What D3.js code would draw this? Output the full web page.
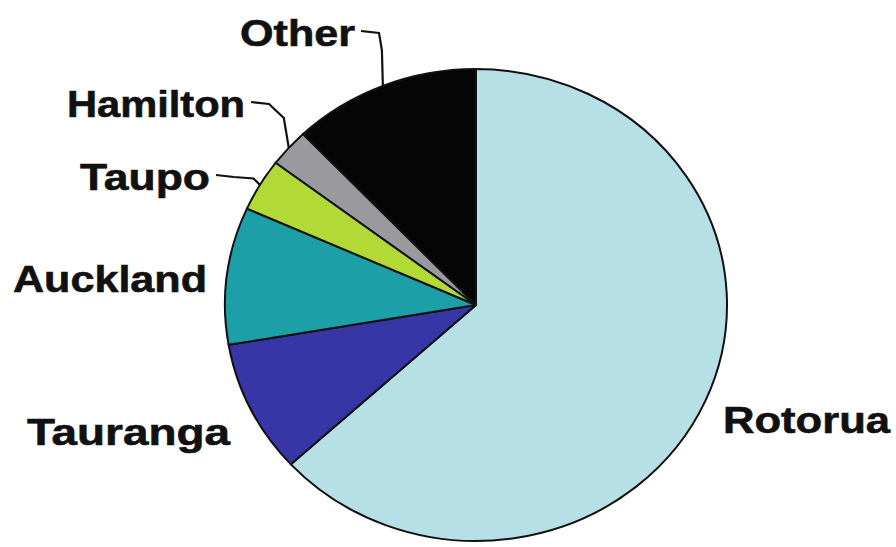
<!DOCTYPE html>
<html>
<head>
<meta charset="utf-8">
<script src="https://cdn.jsdelivr.net/npm/d3@7"></script>
<style>
  body { margin: 0; background: #fff; }
  svg { display: block; }
</style>
</head>
<body>
<svg></svg>
<script>
// Width and height of chart
var width = 896;
var height = 547;

// data (share of slice, percent)
var cities = ["Rotorua", "Tauranga", "Auckland", "Taupo", "Hamilton", "Other"];
var shares = [63.2, 9.1, 9.4, 3.6, 2.6, 12.1];
var colours = ["#b6dfe6", "#3636a6", "#1c9fa6", "#b3d936", "#9a9a9e", "#050505"];

// label placement (left x, baseline y, width), kept apart from the data
var labelPos = {
    "Rotorua":  [723, 433, 167],
    "Tauranga": [27, 445, 203],
    "Auckland": [13, 292, 194],
    "Taupo":    [80, 190, 130],
    "Hamilton": [67, 117, 178],
    "Other":    [240, 46, 115]
};
// which labels get a little leader line
var leaders = ["Taupo", "Hamilton", "Other"];

var cx = 476, cy = 305, radius = 251, squash = 0.94;

var svg = d3.select("svg")
    .attr("width", width)
    .attr("height", height);

var pie = d3.pie().sort(null).value(function(d) { return d.value; });
var arc = d3.arc().innerRadius(0).outerRadius(radius);

var data = cities.map(function(c, i) { return { name: c, value: shares[i], colour: colours[i] }; });
var arcs = pie(data);

var g = svg.append("g")
    .attr("transform", "translate(" + cx + "," + cy + ") scale(1," + squash + ")");

g.selectAll("path")
    .data(arcs)
    .enter()
    .append("path")
    .attr("d", arc)
    .attr("fill", function(d) { return d.data.colour; })
    .attr("stroke", "#111")
    .attr("stroke-width", 2)
    .attr("stroke-linejoin", "round")
    .attr("vector-effect", "non-scaling-stroke");

// labels
svg.selectAll("text.lbl")
    .data(arcs)
    .enter()
    .append("text")
    .attr("class", "lbl")
    .attr("x", function(d) { return labelPos[d.data.name][0]; })
    .attr("y", function(d) { return labelPos[d.data.name][1]; })
    .attr("textLength", function(d) { return labelPos[d.data.name][2]; })
    .attr("lengthAdjust", "spacingAndGlyphs")
    .style("font-family", "'Liberation Sans', Arial, sans-serif")
    .style("font-weight", "bold")
    .style("font-size", "37px")
    .style("fill", "#111")
    .style("stroke", "#111")
    .style("stroke-width", 0.6)
    .text(function(d) { return d.data.name; });

// leader lines: from end of label to middle of the slice's outer edge
svg.selectAll("path.leader")
    .data(arcs.filter(function(d) { return leaders.indexOf(d.data.name) >= 0; }))
    .enter()
    .append("path")
    .attr("class", "leader")
    .attr("fill", "none")
    .attr("stroke", "#111")
    .attr("stroke-width", 2.2)
    .attr("d", function(d) {
        var p = labelPos[d.data.name];
        var x0 = p[0] + p[2] + 6, y0 = p[1] - 15;
        var a = (d.startAngle + d.endAngle) / 2;
        var ex = cx + Math.sin(a) * radius;
        var ey = cy - Math.cos(a) * radius * squash;
        var line = d3.line().curve(d3.curveLinear);
        return line([[x0, y0], [x0 + 18, y0 + 2], [ex - (ex - x0 - 18) * 0.25, y0 + (ey - y0) * 0.35], [ex, ey]]);
    });
</script>
</body>
</html>
